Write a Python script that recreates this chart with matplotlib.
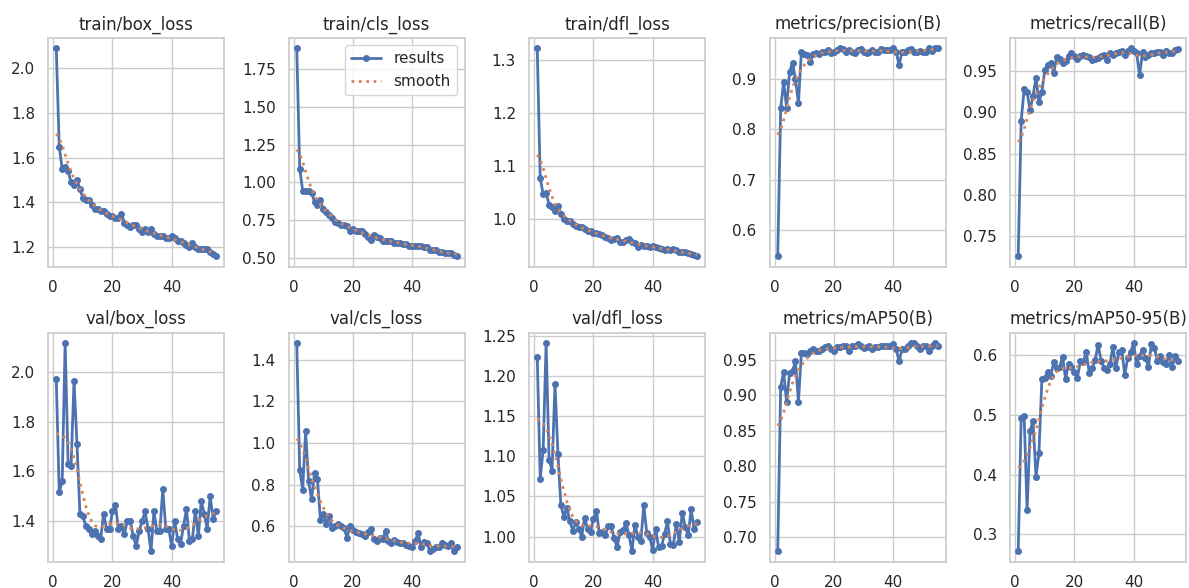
import numpy as np
import matplotlib
matplotlib.use("Agg")
import matplotlib.pyplot as plt
import seaborn as sns

epochs = list(range(1, 56))

titles = ["train/box_loss", "train/cls_loss", "train/dfl_loss", "metrics/precision(B)", "metrics/recall(B)",
          "val/box_loss", "val/cls_loss", "val/dfl_loss", "metrics/mAP50(B)", "metrics/mAP50-95(B)"]

train_box_loss = [2.09, 1.65, 1.55, 1.56, 1.54, 1.49, 1.48, 1.50, 1.46, 1.42, 1.41, 1.41, 1.39, 1.37, 1.37,
                  1.36, 1.36, 1.35, 1.34, 1.34, 1.33, 1.33, 1.35, 1.31, 1.30, 1.29, 1.30, 1.30, 1.28, 1.27,
                  1.28, 1.27, 1.28, 1.26, 1.25, 1.25, 1.25, 1.24, 1.24, 1.25, 1.24, 1.23, 1.23, 1.22, 1.21,
                  1.20, 1.22, 1.20, 1.19, 1.19, 1.19, 1.19, 1.18, 1.17, 1.16]
train_cls_loss = [1.89, 1.09, 0.945, 0.94, 0.94, 0.93, 0.87, 0.85, 0.88, 0.82, 0.80, 0.78, 0.76, 0.74, 0.73,
                  0.72, 0.72, 0.71, 0.68, 0.69, 0.68, 0.68, 0.68, 0.66, 0.64, 0.62, 0.65, 0.64, 0.63, 0.61,
                  0.61, 0.61, 0.61, 0.60, 0.60, 0.60, 0.59, 0.59, 0.58, 0.58, 0.58, 0.58, 0.58, 0.57, 0.57,
                  0.55, 0.55, 0.55, 0.54, 0.54, 0.53, 0.53, 0.53, 0.52, 0.51]
train_dfl_loss = [1.322, 1.078, 1.047, 1.05, 1.028, 1.024, 1.015, 1.026, 1.01, 1.0, 0.998, 0.998, 0.992, 0.987,
                  0.985, 0.985, 0.983, 0.978, 0.978, 0.975, 0.975, 0.972, 0.97, 0.968, 0.965, 0.962, 0.963,
                  0.966, 0.958, 0.958, 0.962, 0.963, 0.958, 0.955, 0.948, 0.952, 0.95, 0.95, 0.949, 0.95,
                  0.949, 0.947, 0.944, 0.943, 0.944, 0.943, 0.944, 0.942, 0.938, 0.938, 0.938, 0.937, 0.935,
                  0.933, 0.931]
precision = [0.548, 0.842, 0.895, 0.843, 0.915, 0.932, 0.90, 0.852, 0.955, 0.95, 0.948, 0.935, 0.95, 0.952,
             0.95, 0.955, 0.955, 0.958, 0.952, 0.955, 0.958, 0.962, 0.96, 0.955, 0.958, 0.955, 0.953, 0.958,
             0.96, 0.955, 0.952, 0.955, 0.958, 0.955, 0.955, 0.96, 0.958, 0.958, 0.958, 0.962, 0.955, 0.928,
             0.955, 0.955, 0.958, 0.96, 0.955, 0.955, 0.957, 0.955, 0.955, 0.962, 0.957, 0.962, 0.962]
recall = [0.726, 0.89, 0.928, 0.925, 0.903, 0.92, 0.942, 0.913, 0.925, 0.952, 0.958, 0.96, 0.948, 0.967,
          0.965, 0.96, 0.962, 0.968, 0.972, 0.968, 0.965, 0.968, 0.97, 0.968, 0.967, 0.964, 0.965, 0.966,
          0.968, 0.97, 0.964, 0.972, 0.97, 0.972, 0.973, 0.975, 0.97, 0.975, 0.978, 0.975, 0.972, 0.945,
          0.973, 0.967, 0.97, 0.972, 0.972, 0.973, 0.973, 0.97, 0.974, 0.972, 0.972, 0.976, 0.977]
val_box_loss = [1.97, 1.516, 1.56, 2.116, 1.63, 1.62, 1.965, 1.71, 1.43, 1.42, 1.38, 1.37, 1.35, 1.36, 1.34,
                1.33, 1.43, 1.37, 1.37, 1.44, 1.465, 1.37, 1.38, 1.35, 1.40, 1.40, 1.34, 1.30, 1.36, 1.40,
                1.44, 1.37, 1.28, 1.44, 1.36, 1.36, 1.53, 1.37, 1.37, 1.30, 1.40, 1.33, 1.31, 1.38, 1.45,
                1.32, 1.33, 1.44, 1.34, 1.48, 1.43, 1.37, 1.50, 1.41, 1.44]
val_cls_loss = [1.48, 0.87, 0.775, 1.055, 0.815, 0.73, 0.855, 0.825, 0.63, 0.66, 0.61, 0.65, 0.59, 0.60, 0.61,
                0.60, 0.59, 0.545, 0.60, 0.58, 0.57, 0.565, 0.56, 0.555, 0.57, 0.585, 0.54, 0.53, 0.545, 0.54,
                0.575, 0.53, 0.52, 0.535, 0.525, 0.52, 0.52, 0.51, 0.505, 0.50, 0.53, 0.565, 0.50, 0.525,
                0.52, 0.48, 0.49, 0.50, 0.50, 0.52, 0.51, 0.505, 0.52, 0.48, 0.50]
val_dfl_loss = [1.224, 1.072, 1.108, 1.241, 1.096, 1.082, 1.19, 1.103, 1.039, 1.025, 1.036, 1.02, 1.007,
                1.018, 1.01, 1.0, 1.023, 1.01, 1.006, 1.022, 1.032, 1.004, 1.006, 1.002, 1.013, 1.013, 0.998,
                0.987, 1.006, 1.008, 1.017, 1.002, 0.982, 1.015, 1.0, 0.995, 1.039, 1.005, 1.0, 0.983, 1.01,
                0.987, 0.988, 1.003, 1.019, 0.991, 0.99, 1.016, 0.993, 1.03, 1.012, 1.002, 1.034, 1.009, 1.018]
map50 = [0.68, 0.912, 0.933, 0.89, 0.932, 0.935, 0.948, 0.891, 0.96, 0.96, 0.958, 0.962, 0.966, 0.962, 0.962,
         0.965, 0.968, 0.97, 0.965, 0.963, 0.968, 0.968, 0.97, 0.97, 0.962, 0.97, 0.97, 0.972, 0.97, 0.967,
         0.968, 0.97, 0.966, 0.968, 0.968, 0.97, 0.97, 0.97, 0.97, 0.972, 0.966, 0.948, 0.965, 0.966, 0.97,
         0.974, 0.974, 0.97, 0.966, 0.97, 0.97, 0.963, 0.97, 0.974, 0.97]
map50_95 = [0.272, 0.495, 0.498, 0.34, 0.472, 0.49, 0.396, 0.436, 0.56, 0.562, 0.572, 0.565, 0.588, 0.578,
            0.58, 0.597, 0.56, 0.585, 0.58, 0.572, 0.562, 0.59, 0.588, 0.605, 0.57, 0.578, 0.592, 0.617, 0.59,
            0.578, 0.575, 0.585, 0.614, 0.578, 0.605, 0.608, 0.567, 0.595, 0.605, 0.62, 0.585, 0.598, 0.608,
            0.595, 0.58, 0.618, 0.612, 0.59, 0.598, 0.588, 0.585, 0.6, 0.58, 0.598, 0.59]

series = [train_box_loss, train_cls_loss, train_dfl_loss, precision, recall,
          val_box_loss, val_cls_loss, val_dfl_loss, map50, map50_95]


def gaussian_smooth(y, sigma=3.0, truncate=4.0):
    y = np.asarray(y, dtype=float)
    r = int(truncate * sigma + 0.5)
    k = np.exp(-0.5 * (np.arange(-r, r + 1) / sigma) ** 2)
    k /= k.sum()
    yp = np.pad(y, r, mode="symmetric")
    return np.convolve(yp, k, mode="valid")


sns.set_theme(style="whitegrid")
plt.rcParams["font.family"] = ["DejaVu Sans"]

fig, axes = plt.subplots(2, 5, figsize=(11.89, 5.88), dpi=100)
fig.subplots_adjust(left=0.0406, right=0.9975, top=0.936, bottom=0.045, wspace=0.368, hspace=0.288)
axes = axes.ravel()
x = np.array(epochs)
for i, (ax, y, t) in enumerate(zip(axes, series, titles)):
    ax.plot(x, y, marker=".", label="results", linewidth=2, markersize=8, color="#4C72B0")
    ax.plot(x, gaussian_smooth(y), ":", label="smooth", linewidth=2, color="#DD8452")
    ax.set_title(t, fontsize=12)
    if i == 1:
        ax.legend(loc="upper right")

fig.savefig("out.png", dpi=100)
